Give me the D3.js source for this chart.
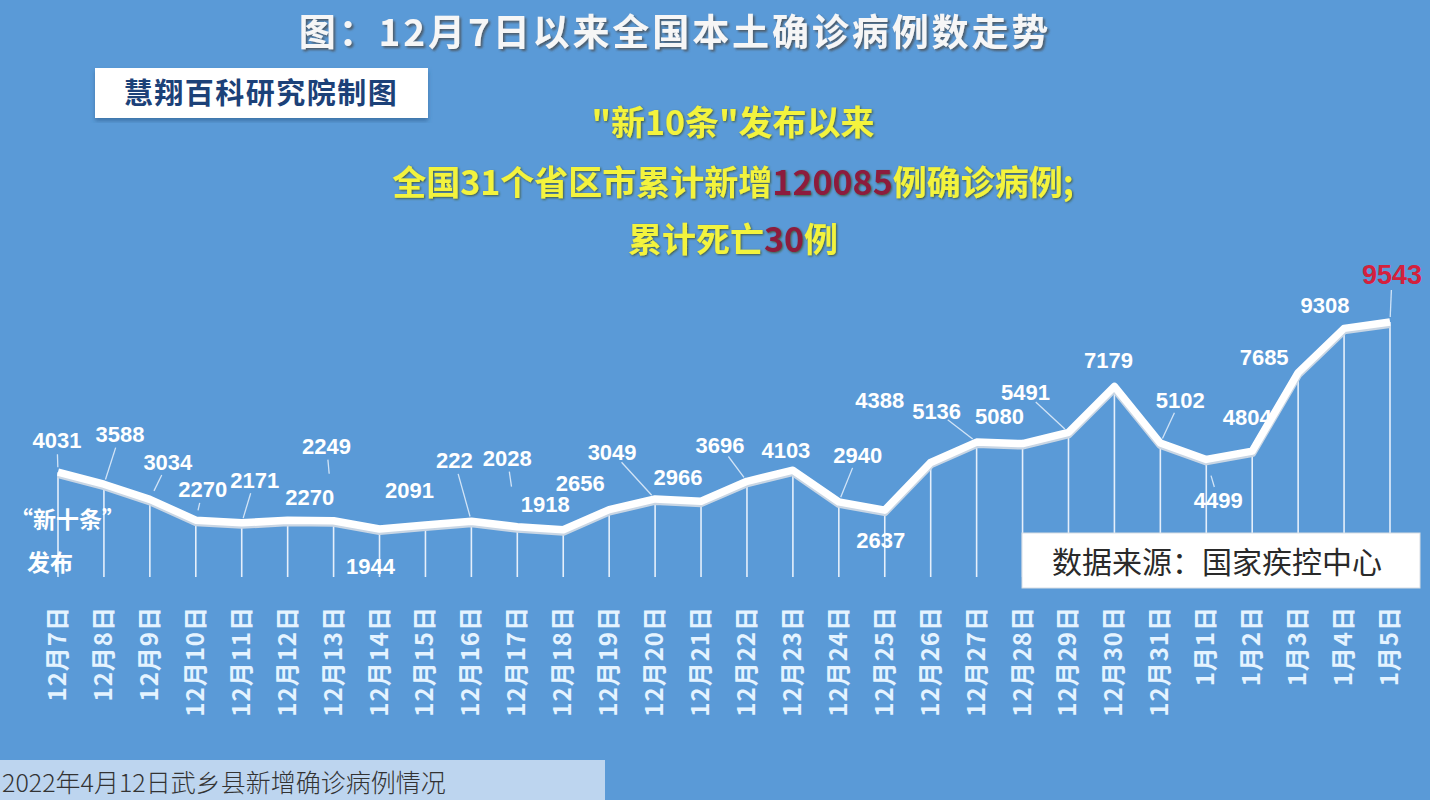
<!DOCTYPE html>
<html>
<head>
<meta charset="utf-8">
<script src="https://cdn.jsdelivr.net/npm/d3@7"></script>
<style>
  html, body { margin: 0; padding: 0; background: #5a9ad7; overflow: hidden; }
  svg { display: block; }
</style>
</head>
<body>
<svg id="chart"></svg>
<script>
/* 12月7日以来全国本土确诊病例数走势 */

const dates = ["12月7日", "12月8日", "12月9日", "12月10日", "12月11日", "12月12日", "12月13日",
  "12月14日", "12月15日", "12月16日", "12月17日", "12月18日", "12月19日", "12月20日",
  "12月21日", "12月22日", "12月23日", "12月24日", "12月25日", "12月26日", "12月27日",
  "12月28日", "12月29日", "12月30日", "12月31日", "1月1日", "1月2日", "1月3日", "1月4日", "1月5日"]

const cases = [4031, 3588, 3034, 2270, 2171, 2270, 2249, 1944, 2091, 2227, 2028, 1918, 2656, 3049,
  2966, 3696, 4103, 2940, 2637, 4388, 5136, 5080, 5491, 7179, 5102, 4499, 4804, 7685, 9308, 9543]

// texts as printed on the picture (one is cut off there)
const caseLabels = ["4031", "3588", "3034", "2270", "2171", "2270", "2249", "1944", "2091", "222", "2028",
  "1918", "2656", "3049", "2966", "3696", "4103", "2940", "2637", "4388", "5136", "5080", "5491",
  "7179", "5102", "4499", "4804", "7685", "9308", "9543"]

const title = "图：12月7日以来全国本土确诊病例数走势"
const maker = "慧翔百科研究院制图"
const source = "数据来源：国家疾控中心"
const caption = "2022年4月12日武乡县新增确诊病例情况"

// label placement, relative to its point: [dx, dy] of label centre
const labelOffsets = [[-1, -32], [16, -50], [18, -37], [7, -31], [13, -43], [22, -23], [-7, -75],
  [-9, 37], [-16, -35], [-17, -61], [-10, -69], [-18, -26], [-29, -27], [-43, -47], [-23, -24],
  [-27, -36], [-7, -20], [19, -47], [-4, 30], [-51, -62], [-40, -31], [-23, -28], [-43, -40],
  [-6, -26], [20, -43], [12, 41], [-5, -34], [-34, -16], [-19, -23], [2, -46]]

// leader line from label toward point: 0 none, else part of the way
const leaders = [1, 1, 0.8, 0.6, 1, 0, 0.25, 0, 0, 1, 0.3, 0, 0, 1, 0, 1, 0, 1, 0, 0, 1, 0, 1,
  0, 1, 0.5, 0, 0, 0, 1]

const width = 1430, height = 800

const svg = d3.select("#chart")
  .attr("width", width)
  .attr("height", height)

const defs = svg.append("defs")
defs.append("filter").attr("id", "shadow")
  .append("feDropShadow")
  .attr("dx", 2).attr("dy", 2).attr("stdDeviation", 1.2)
  .attr("flood-color", "#4a4a4a").attr("flood-opacity", 0.75)
defs.append("filter").attr("id", "glow")
  .append("feDropShadow")
  .attr("dx", 1).attr("dy", 1).attr("stdDeviation", 1.2)
  .attr("flood-color", "#3b4a18").attr("flood-opacity", 0.8)
defs.append("filter").attr("id", "soft")
  .append("feDropShadow")
  .attr("dx", 0).attr("dy", 3).attr("stdDeviation", 2)
  .attr("flood-color", "#2d5a8a").attr("flood-opacity", 0.6)

svg.append("rect")
  .attr("width", width).attr("height", height)
  .attr("fill", "#5a9ad7")

// title
svg.append("text")
  .attr("x", 675).attr("y", 46)
  .attr("text-anchor", "middle")
  .style("font-family", "'Noto Sans CJK SC', sans-serif")
  .style("font-weight", 700)
  .style("font-size", "37px")
  .style("letter-spacing", "2.9px")
  .attr("fill", "#f6f6f6")
  .attr("filter", "url(#shadow)")
  .text(title)

// maker box
svg.append("rect")
  .attr("x", 95).attr("y", 68).attr("width", 333).attr("height", 50)
  .attr("fill", "#ffffff")
  .attr("filter", "url(#soft)")
svg.append("text")
  .attr("x", 261).attr("y", 104)
  .attr("text-anchor", "middle")
  .style("font-family", "'Noto Sans CJK SC', sans-serif")
  .style("font-weight", 700)
  .style("font-size", "29px")
  .style("letter-spacing", "1.5px")
  .attr("fill", "#1c4178")
  .text(maker)

// yellow headline
const headline = [
  {y: 135, parts: [["\"新10条\"发布以来", "#f3f33e"]]},
  {y: 195, parts: [["全国31个省区市累计新增", "#f3f33e"], ["120085", "#8c1a3e"], ["例确诊病例;", "#f3f33e"]]},
  {y: 252, parts: [["累计死亡", "#f3f33e"], ["30", "#8c1a3e"], ["例", "#f3f33e"]]}
]
headline.forEach(function (line) {
  const t = svg.append("text")
    .attr("x", 733).attr("y", line.y)
    .attr("text-anchor", "middle")
    .style("font-family", "'Noto Sans CJK SC', sans-serif")
    .style("font-weight", 700)
    .style("font-size", "34px")
    .attr("filter", "url(#glow)")
  line.parts.forEach(function (p) {
    t.append("tspan").attr("fill", p[1]).text(p[0])
  })
})

// scales
const x = d3.scalePoint()
  .domain(dates)
  .range([58, 1390])

const y = d3.scaleLinear()
  .domain([0, d3.max(cases)])
  .range([582, 322])

const points = cases.map(function (v, i) {
  return {date: dates[i], value: v, label: caseLabels[i], off: labelOffsets[i], lead: leaders[i]}
})

// drop lines
svg.append("g")
  .selectAll("line")
  .data(points)
  .enter().append("line")
  .attr("x1", d => x(d.date)).attr("x2", d => x(d.date))
  .attr("y1", d => y(d.value)).attr("y2", 577)
  .attr("stroke", "#f4f8ff")
  .attr("stroke-width", 1.6)
  .attr("stroke-opacity", 0.9)

// leader lines
svg.append("g")
  .selectAll("line")
  .data(points.filter(d => d.lead > 0))
  .enter().append("line")
  .each(function (d) {
    const px = x(d.date), py = y(d.value)
    const lx = px + d.off[0], ly = py + d.off[1]
    const dist = Math.hypot(px - lx, py - ly)
    const ux = (px - lx) / dist, uy = (py - ly) / dist
    const start = 14
    const end = start + (dist - start - 5) * d.lead
    d3.select(this)
      .attr("x1", lx + ux * start).attr("y1", ly + uy * start)
      .attr("x2", lx + ux * end).attr("y2", ly + uy * end)
  })
  .attr("stroke", "#e8f1fb")
  .attr("stroke-width", 1.3)
  .attr("stroke-opacity", 0.85)

// main line
const line = d3.line()
  .x(d => x(d.date))
  .y(d => y(d.value))

svg.append("path")
  .datum(points)
  .attr("d", line)
  .attr("transform", "translate(0,2)")
  .attr("fill", "none")
  .attr("stroke", "#c9d6e4")
  .attr("stroke-width", 8)
  .attr("stroke-linejoin", "round")

svg.append("path")
  .datum(points)
  .attr("d", line)
  .attr("fill", "none")
  .attr("stroke", "#ffffff")
  .attr("stroke-width", 7.5)
  .attr("stroke-linejoin", "round")

// value labels
svg.append("g")
  .selectAll("text")
  .data(points)
  .enter().append("text")
  .attr("x", d => x(d.date) + d.off[0])
  .attr("y", d => y(d.value) + d.off[1] + 8)
  .attr("text-anchor", "middle")
  .style("font-family", "'Liberation Sans', Arial, sans-serif")
  .style("font-weight", 700)
  .style("font-size", (d, i) => i === points.length - 1 ? "27px" : "22px")
  .attr("fill", (d, i) => i === points.length - 1 ? "#d4213d" : "#ffffff")
  .text(d => d.label)

// "新十条" 发布 note
const note = svg.append("g")
  .style("font-family", "'Noto Sans CJK SC', sans-serif")
  .style("font-weight", 700)
  .style("font-size", "23px")
  .attr("fill", "#ffffff")
note.append("text").attr("x", 10).attr("y", 528).text("“新十条”")
note.append("text").attr("x", 27).attr("y", 571).text("发布")

// source box
svg.append("rect")
  .attr("x", 1022).attr("y", 533).attr("width", 398).attr("height", 55)
  .attr("fill", "#ffffff")
  .attr("stroke", "#d8dde3")
svg.append("text")
  .attr("x", 1052).attr("y", 573)
  .style("font-family", "'Noto Sans CJK SC', sans-serif")
  .style("font-size", "30px")
  .attr("fill", "#2a2a2a")
  .text(source)

// date axis, vertical labels
svg.append("g")
  .selectAll("text")
  .data(dates)
  .enter().append("text")
  .attr("transform", d => "translate(" + (x(d) + 8) + ",606) rotate(-90)")
  .attr("text-anchor", "end")
  .style("font-family", "'Noto Sans CJK SC', sans-serif")
  .style("font-weight", 700)
  .style("font-size", "24px")
  .style("letter-spacing", "1px")
  .attr("fill", "#e4f3ff")
  .text(d => d)

// caption strip
svg.append("rect")
  .attr("x", 0).attr("y", 760).attr("width", 605).attr("height", 40)
  .attr("fill", "#bdd5ef")
svg.append("text")
  .attr("x", 2).attr("y", 792)
  .style("font-family", "'Noto Sans CJK SC', sans-serif")
  .style("font-weight", 300)
  .style("font-size", "25px")
  .attr("fill", "#333333")
  .text(caption)
</script>
</body>
</html>
